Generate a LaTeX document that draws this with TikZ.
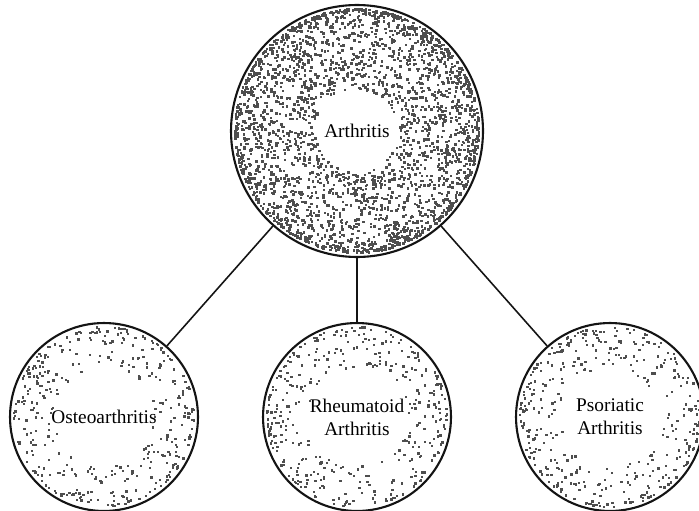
\documentclass[tikz,border=0pt]{standalone}
\usepackage{fontspec}
\setmainfont{Liberation Serif}
\usepackage{tikz}
\usetikzlibrary{positioning}
\definecolor{ink}{RGB}{20,20,20}
\definecolor{speck}{RGB}{78,78,78}
\tikzset{
  blob/.style={circle,draw=ink,line width=1.2pt,inner sep=0pt,align=center,font=\fontsize{11}{13}\selectfont},
  bigblob/.style={blob,minimum size=5.04cm},
  smallblob/.style={blob,minimum size=3.76cm},
  link/.style={draw=ink,line width=0.9pt},
  dot/.style={fill=speck}
}
% random specks, thicker towards the rim
\newcommand{\Stipple}[5]{%
  \begin{scope}[shift={(#1.center)}]
    \foreach \k in {1,...,#3}{
      \pgfmathsetmacro{\ang}{360*rnd}
      \pgfmathsetmacro{\u}{rnd}
      \pgfmathsetmacro{\rad}{#2*(1-#4*\u*\u)}
      \fill[dot] (\ang:\rad) ++(-#5/2,-#5/2) rectangle ++(#5,#5);
    }
  \end{scope}%
}

\begin{document}
\begin{tikzpicture}[x=0.02cm,y=-0.02cm]
  \useasboundingbox (0,0) rectangle (699,510);
  \pgfmathsetseed{4217}

  \node[bigblob] (arth) at (357,131) {Arthritis};
  \node[smallblob] (osteo) at (104,417) {Osteoarthritis};
  \node[smallblob] (rheum) at (357,417) {Rheumatoid\\Arthritis};
  \node[smallblob] (psor) at (610,417) {Psoriatic\\Arthritis};

  \Stipple{arth}{122}{2700}{0.66}{2.5}
  \Stipple{osteo}{90}{380}{0.45}{2.3}
  \Stipple{rheum}{90}{380}{0.45}{2.3}
  \Stipple{psor}{90}{380}{0.45}{2.3}

  \draw[link] (arth) -- (osteo);
  \draw[link] (arth) -- (rheum);
  \draw[link] (arth) -- (psor);
\end{tikzpicture}
\end{document}
